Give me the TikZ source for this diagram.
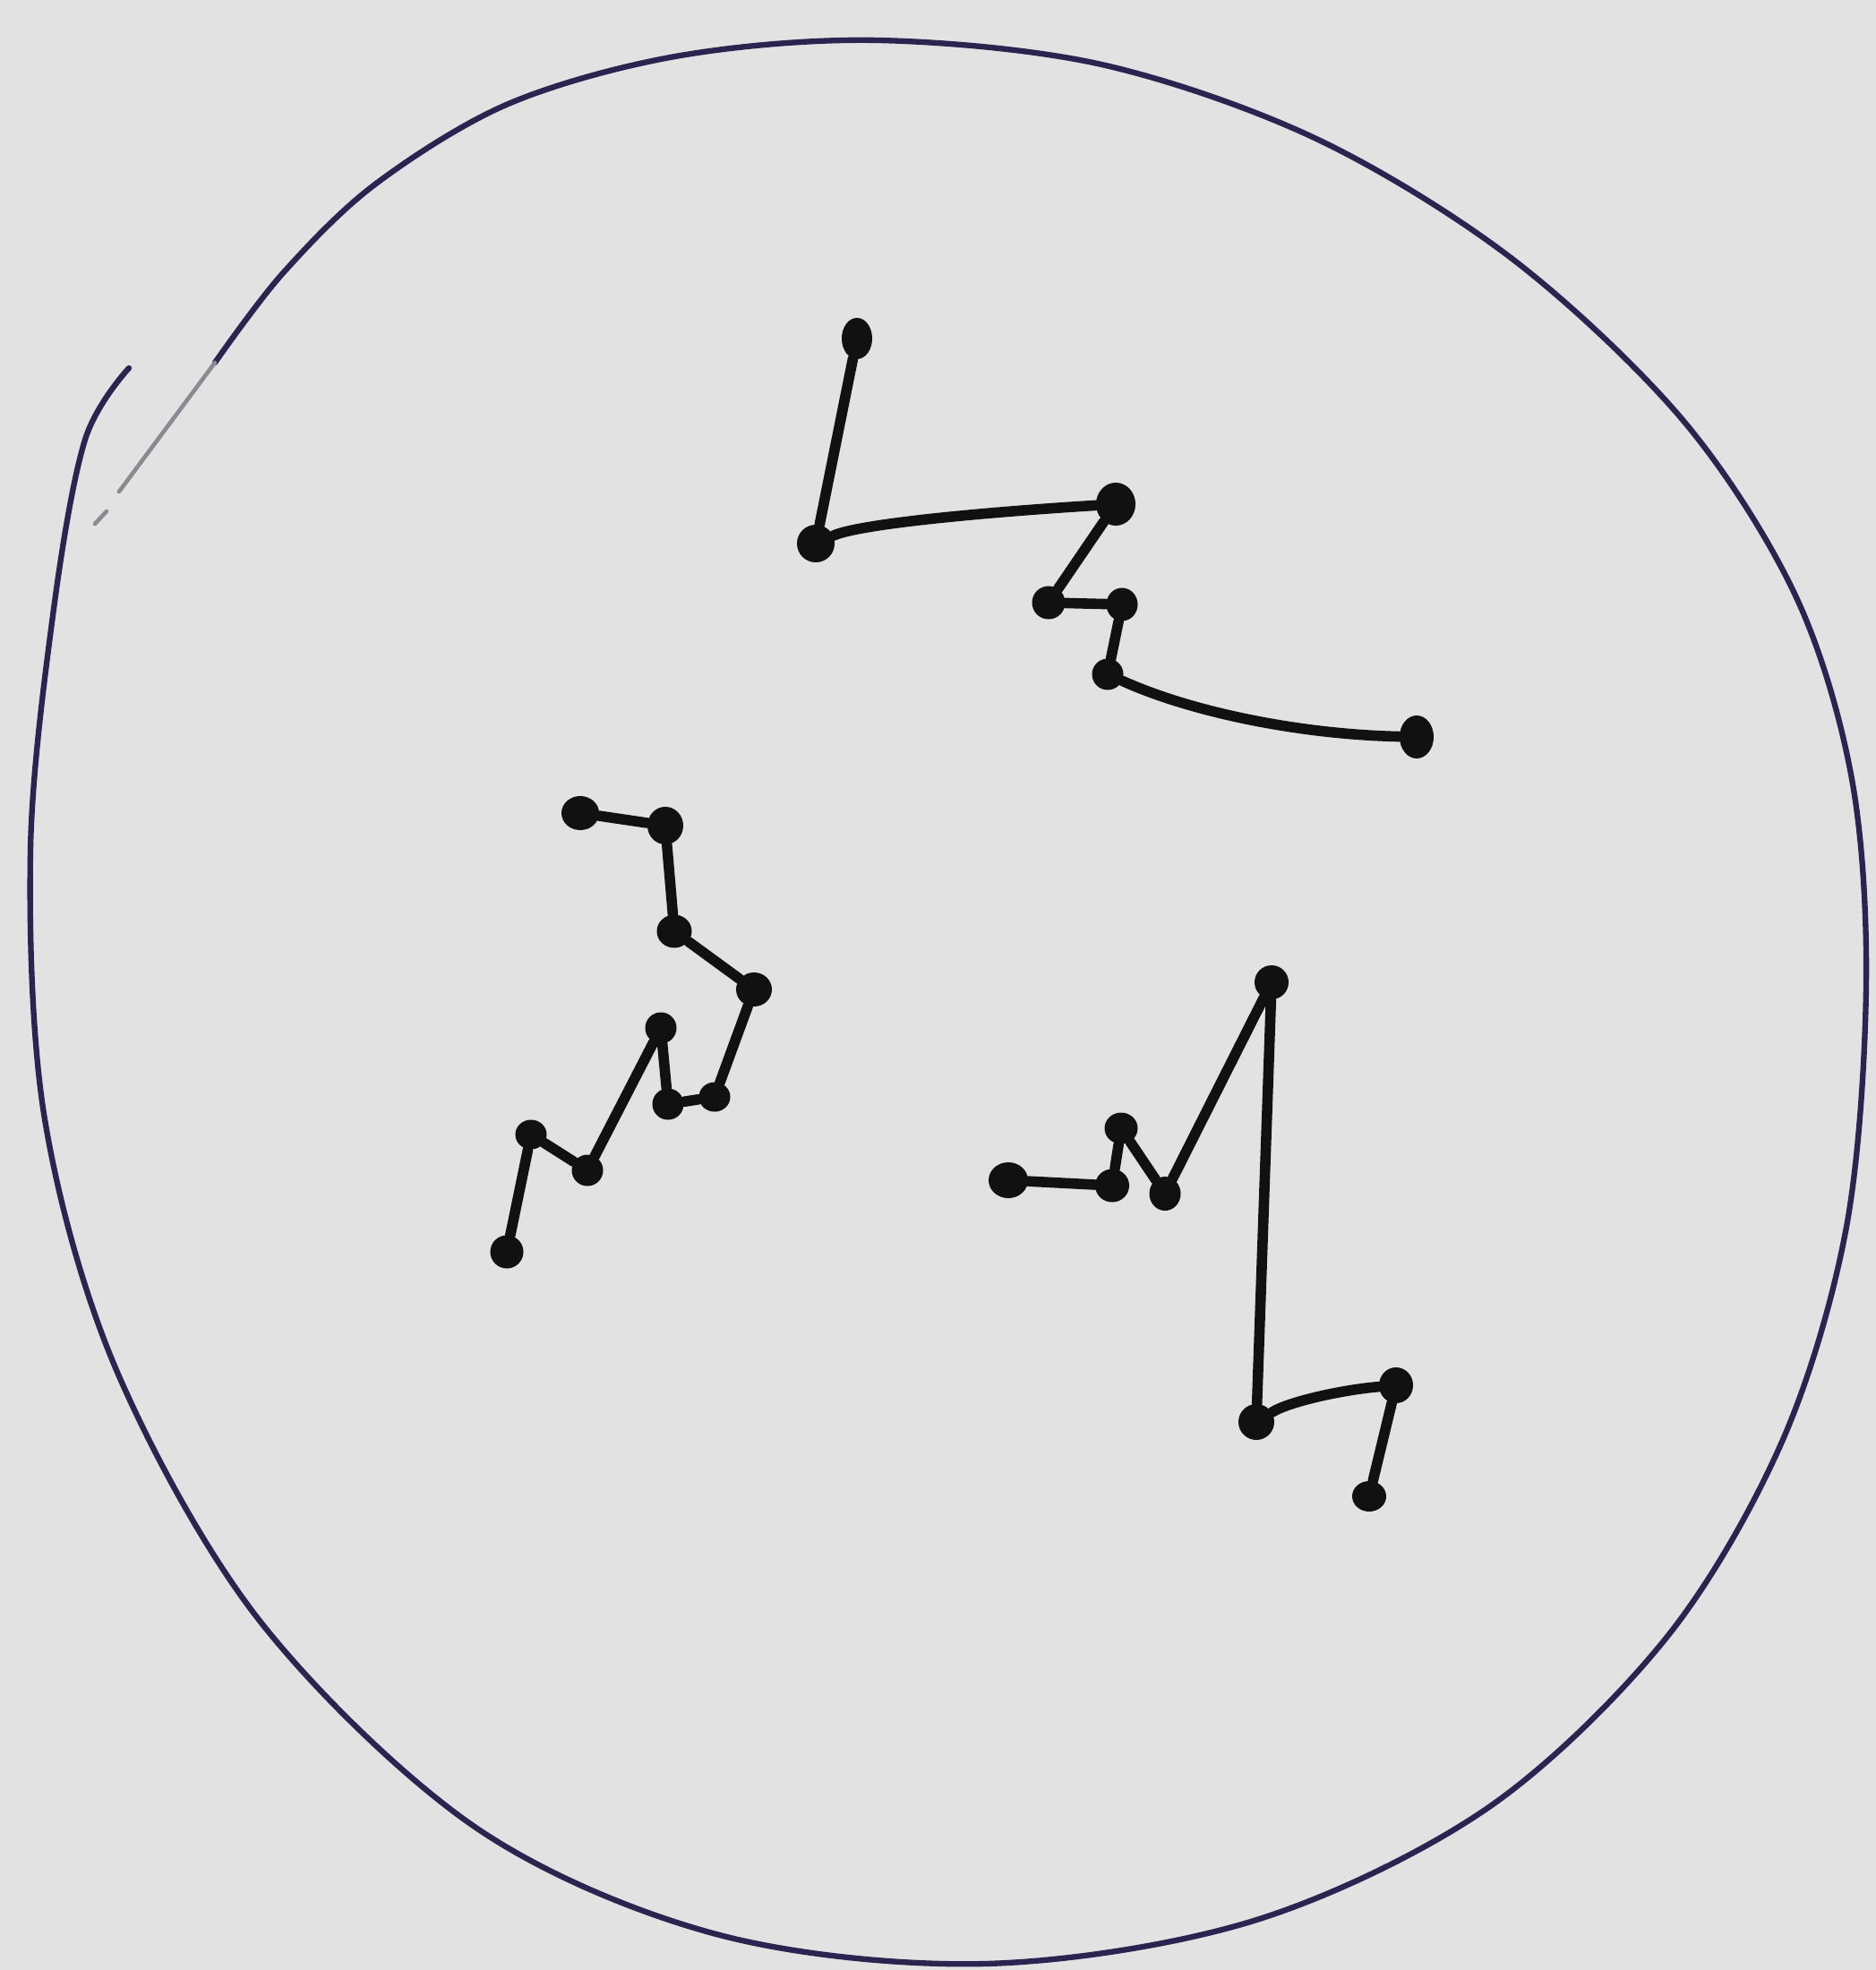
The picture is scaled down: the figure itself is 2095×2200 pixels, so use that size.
\documentclass[tikz,border=0pt]{standalone}
\usepackage{tikz}
\usetikzlibrary{shapes.geometric}
\definecolor{paper}{HTML}{E2E2E2}
\definecolor{rim}{HTML}{2A2550}
\definecolor{ink}{HTML}{111111}
\definecolor{fade}{HTML}{8A8A92}

\begin{document}
\begin{tikzpicture}[
  x=0.01cm, y=-0.01cm,
  rimline/.style={line width=1.8pt, rim, line cap=round, line join=round},
  walk/.style={line width=3.3pt, ink, line cap=round, line join=round},
  dot/.style={ellipse, fill=ink, inner sep=0pt, minimum width=0.37cm, minimum height=0.37cm}
]
\useasboundingbox (0,0) rectangle (2095,2200);
\fill[paper] (0,0) rectangle (2095,2200);
% outer boundary, hand drawn
\draw[rimline] plot[smooth, tension=0.55] coordinates {(144,411) (95,491) (60,680) (34,950) (50,1250)
  (130,1530) (290,1810) (530,2040) (800,2160) (1100,2193) (1400,2145)
  (1660,2020) (1860,1830) (1990,1610) (2062,1370) (2084,1100) (2068,870)
  (2005,665) (1880,470) (1690,290) (1470,155) (1230,72) (980,45)
  (760,62) (570,115) (420,205) (316,305) (240,405)};
\draw[line width=1.3pt, fade, line cap=round] (240,405) -- (133,549);
\draw[line width=1.3pt, fade, line cap=round] (119,571) -- (106,585);
% walk 1 (top)
\node[dot, minimum width=0.34cm, minimum height=0.46cm] (a1) at (957,378) {};
\node[dot, minimum width=0.42cm, minimum height=0.42cm] (a2) at (911,607) {};
\node[dot, minimum width=0.44cm, minimum height=0.48cm] (a3) at (1246,563) {};
\node[dot] (a4) at (1171,673) {};
\node[dot, minimum width=0.35cm] (a5) at (1253,675) {};
\node[dot, minimum width=0.35cm, minimum height=0.35cm] (a6) at (1237,753) {};
\node[dot, minimum width=0.38cm, minimum height=0.48cm] (a7) at (1582,823) {};
\draw[walk] (a1) -- (a2) .. controls (960,585) and (1100,572) .. (a3) -- (a4) -- (a5) -- (a6)
  .. controls (1330,795) and (1450,820) .. (a7);
% walk 2 (left)
\node[dot, minimum width=0.42cm, minimum height=0.38cm] (b1) at (648,908) {};
\node[dot, minimum width=0.40cm, minimum height=0.42cm] (b2) at (743,922) {};
\node[dot, minimum width=0.39cm] (b3) at (753,1040) {};
\node[dot, minimum width=0.40cm, minimum height=0.38cm] (b4) at (842,1105) {};
\node[dot, minimum width=0.35cm, minimum height=0.33cm] (b5) at (798,1225) {};
\node[dot, minimum width=0.35cm, minimum height=0.35cm] (b6) at (746,1233) {};
\node[dot, minimum width=0.35cm, minimum height=0.35cm] (b7) at (738,1148) {};
\node[dot, minimum width=0.35cm, minimum height=0.35cm] (b8) at (656,1307) {};
\node[dot, minimum width=0.35cm, minimum height=0.33cm] (b9) at (593,1267) {};
\node[dot] (b10) at (566,1398) {};
\draw[walk] (b1) -- (b2) -- (b3) -- (b4) -- (b5) -- (b6) -- (b7) -- (b8) -- (b9) -- (b10);
% walk 3 (right)
\node[dot, minimum width=0.44cm, minimum height=0.40cm] (c1) at (1126,1318) {};
\node[dot, minimum width=0.38cm] (c2) at (1242,1324) {};
\node[dot, minimum height=0.35cm] (c3) at (1252,1260) {};
\node[dot, minimum width=0.35cm, minimum height=0.38cm] (c4) at (1301,1333) {};
\node[dot, minimum width=0.38cm, minimum height=0.38cm] (c5) at (1420,1097) {};
\node[dot, minimum width=0.40cm, minimum height=0.40cm] (c6) at (1403,1588) {};
\node[dot, minimum width=0.38cm, minimum height=0.40cm] (c7) at (1559,1547) {};
\node[dot, minimum width=0.38cm, minimum height=0.34cm] (c8) at (1529,1671) {};
\draw[walk] (c1) -- (c2) -- (c3) -- (c4) -- (c5) -- (c6)
  .. controls (1440,1565) and (1500,1552) .. (c7) -- (c8);
\end{tikzpicture}
\end{document}
